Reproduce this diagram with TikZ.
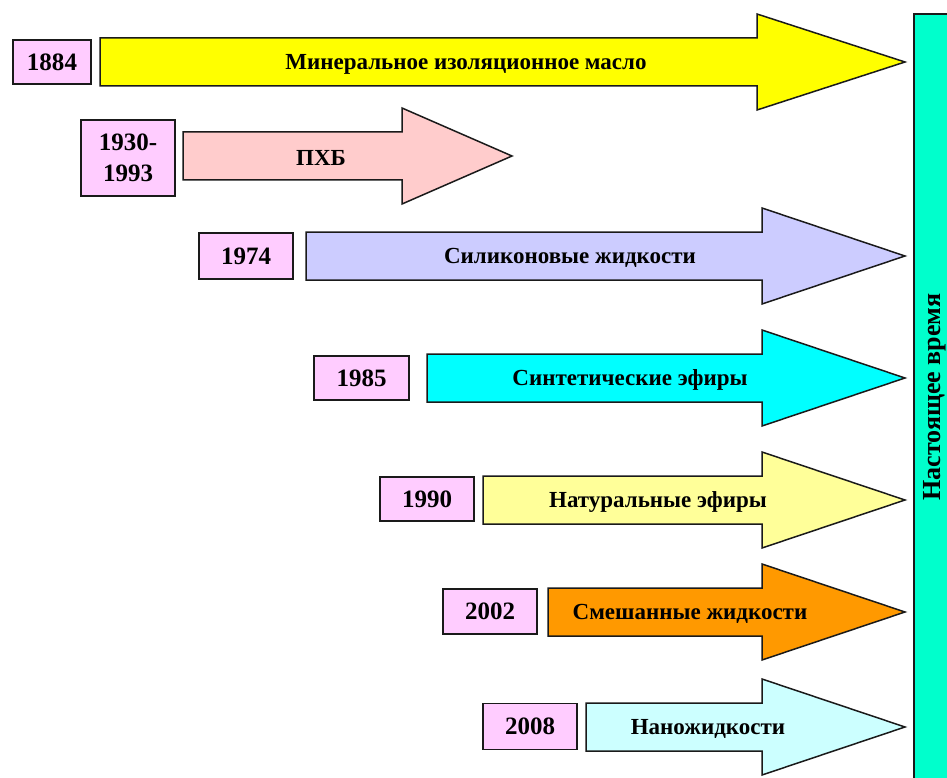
\documentclass[tikz,border=0pt]{standalone}
\usepackage{fontspec}
\setmainfont{Liberation Serif}
\definecolor{yearpink}{HTML}{FFCCFF}
\definecolor{cYellow}{HTML}{FFFF00}
\definecolor{cSalmon}{HTML}{FFCCCC}
\definecolor{cLav}{HTML}{CCCCFF}
\definecolor{cCyan}{HTML}{00FFFF}
\definecolor{cLYellow}{HTML}{FFFF99}
\definecolor{cOrange}{HTML}{FF9900}
\definecolor{cLCyan}{HTML}{CCFFFF}
\definecolor{cBar}{HTML}{00FFCC}
\definecolor{edge}{HTML}{1A1A1A}
\tikzset{
  yearbox/.style={draw=edge, line width=1.5pt, fill=yearpink, inner sep=0pt, font=\bfseries\fontsize{25}{31}\selectfont, align=center},
  arrowshape/.style={draw=edge, line width=1.5pt, line join=miter},
  arrowlabel/.style={font=\bfseries\fontsize{23}{25}\selectfont, inner sep=0pt, yshift=-2pt},
}
\begin{document}
\begin{tikzpicture}[x=1pt,y=-1pt]
\useasboundingbox (0,0) rectangle (947,778);
\clip (0,0) rectangle (947,778);
% right bar
\path[fill=cBar, draw=edge, line width=1.5pt] (914,14) rectangle (960,790);
\node[rotate=90, font=\bfseries\fontsize{26}{28}\selectfont, inner sep=0pt] (bar) at (935,397) {Настоящее время};
% arrows: body-left, head-start, tip, center-y, colour
\foreach \bl/\hs/\tp/\cy/\col [count=\i] in {100/757/905/62/cYellow, 183/402/512/156/cSalmon, 306/762/905/256/cLav, 427/762/905/378/cCyan, 483/762/905/500/cLYellow, 548/762/905/612/cOrange, 586/762/905/727/cLCyan}{
  \draw[arrowshape, fill=\col] (\bl,\cy-24) -- (\hs,\cy-24) -- (\hs,\cy-48) -- (\tp,\cy) -- (\hs,\cy+48) -- (\hs,\cy+24) -- (\bl,\cy+24) -- cycle;
}
% year boxes
\node[yearbox, minimum width=78pt, minimum height=44pt] (y1) at (52,62) {1884};
\node[yearbox, minimum width=94pt, minimum height=76pt] (y2) at (128,158) {1930-\\1993};
\node[yearbox, minimum width=94pt, minimum height=46pt] (y3) at (246,256) {1974};
\node[yearbox, minimum width=95pt, minimum height=44pt] (y4) at (361.5,378) {1985};
\node[yearbox, minimum width=94pt, minimum height=44pt] (y5) at (427,499) {1990};
\node[yearbox, minimum width=94pt, minimum height=45pt] (y6) at (490,611.5) {2002};
\node[yearbox, minimum width=94pt, minimum height=46pt] (y7) at (530,726.5) {2008};
% labels
\node[arrowlabel] (l1) at (466,62) {Минеральное изоляционное масло};
\node[arrowlabel] (l2) at (321,156) {ПХБ};
\node[arrowlabel] (l3) at (570,256) {Силиконовые жидкости};
\node[arrowlabel] (l4) at (630,378) {Синтетические эфиры};
\node[arrowlabel] (l5) at (658,500) {Натуральные эфиры};
\node[arrowlabel] (l6) at (690,612) {Смешанные жидкости};
\node[arrowlabel] (l7) at (708,727) {Наножидкости};
\end{tikzpicture}
\end{document}
